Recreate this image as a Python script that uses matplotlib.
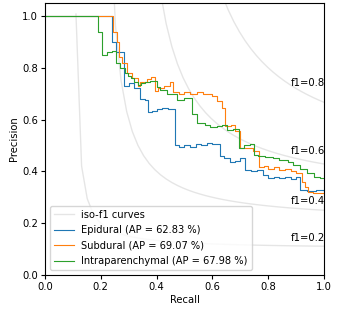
import numpy as np
import matplotlib
matplotlib.use("Agg")
import matplotlib.pyplot as plt

plt.rcParams['font.family'] = ['DejaVu Sans']
plt.rcParams['font.size'] = 7

# Data (recall, precision) step vertices
epi_recall = [0.00, 0.240, 0.255, 0.283, 0.300, 0.320, 0.340, 0.360, 0.370, 0.385, 0.400,
              0.420, 0.440, 0.466, 0.480, 0.500, 0.520, 0.540, 0.560, 0.580, 0.600, 0.627, 0.640,
              0.663, 0.680, 0.700, 0.717, 0.740, 0.760, 0.780, 0.800, 0.820, 0.840, 0.860, 0.880,
              0.900, 0.914, 0.940, 0.970, 1.000]
epi_precision = [1.00, 0.90, 0.86, 0.73, 0.74, 0.72, 0.68, 0.675, 0.63, 0.635, 0.640,
                 0.645, 0.640, 0.500, 0.495, 0.500, 0.495, 0.505, 0.500, 0.510, 0.505, 0.460, 0.450,
                 0.435, 0.440, 0.450, 0.405, 0.400, 0.405, 0.386, 0.375, 0.380, 0.375, 0.380, 0.370,
                 0.378, 0.330, 0.325, 0.330, 0.325]

sub_recall = [0.00, 0.243, 0.258, 0.265, 0.276, 0.294, 0.312, 0.333, 0.340, 0.365, 0.380, 0.394,
              0.405, 0.425, 0.448, 0.459, 0.480, 0.500, 0.520, 0.545, 0.565, 0.599, 0.616, 0.634,
              0.645, 0.665, 0.680, 0.700, 0.720, 0.745, 0.767, 0.785, 0.800, 0.820, 0.840, 0.860,
              0.880, 0.900, 0.921, 0.932, 0.943, 0.960, 0.980, 1.000]
sub_precision = [1.00, 0.94, 0.90, 0.84, 0.82, 0.78, 0.76, 0.73, 0.745, 0.755, 0.765, 0.71,
                 0.72, 0.73, 0.745, 0.705, 0.70, 0.705, 0.70, 0.705, 0.70, 0.69, 0.67, 0.645,
                 0.575, 0.58, 0.555, 0.49, 0.49, 0.48, 0.415, 0.42, 0.41, 0.415, 0.405, 0.41,
                 0.40, 0.395, 0.36, 0.34, 0.32, 0.315, 0.318, 0.315]

intra_recall = [0.00, 0.190, 0.205, 0.222, 0.240, 0.255, 0.270, 0.287, 0.297, 0.308, 0.319, 0.333,
                0.345, 0.360, 0.375, 0.401, 0.412, 0.437, 0.473, 0.500, 0.527,
                0.545, 0.573, 0.591, 0.616, 0.634, 0.652, 0.675, 0.695, 0.715, 0.735, 0.749,
                0.765, 0.790, 0.817, 0.840, 0.870, 0.889, 0.915, 0.939, 0.965, 0.985, 1.000]
intra_precision = [1.00, 0.94, 0.85, 0.86, 0.865, 0.82, 0.80, 0.78, 0.77, 0.76, 0.745, 0.735,
                   0.74, 0.745, 0.75, 0.725, 0.715, 0.70, 0.675, 0.683, 0.62,
                   0.585, 0.58, 0.57, 0.575, 0.58, 0.56, 0.565, 0.49, 0.50, 0.505, 0.465,
                   0.46, 0.455, 0.45, 0.445, 0.435, 0.425, 0.41, 0.395, 0.38, 0.375, 0.375]

labels = ["Epidural (AP = 62.83 %)", "Subdural (AP = 69.07 %)", "Intraparenchymal (AP = 67.98 %)"]
colors = ["#1f77b4", "#ff7f0e", "#2ca02c"]
f_scores = [0.2, 0.4, 0.6, 0.8]

fig = plt.figure(figsize=(3.37, 3.10), dpi=100)
ax = fig.add_axes([0.1335, 0.1129, 0.8279, 0.8774])

iso_line = None
for f in f_scores:
    x = np.linspace(0.01, 1)
    y = f * x / (2 * x - f)
    iso_line, = ax.plot(x[y >= 0], y[y >= 0], color='gray', alpha=0.2, lw=1.0)
    ax.annotate('f1={0:0.1f}'.format(f), xy=(0.88, y[45] + 0.02), fontsize=7.2)

lines = [iso_line]
for r, p, c, l in zip([epi_recall, sub_recall, intra_recall],
                      [epi_precision, sub_precision, intra_precision], colors, labels):
    ln, = ax.step(r, p, where='post', color=c, lw=0.8)
    lines.append(ln)

ax.set_xlim(0.0, 1.0)
ax.set_ylim(0.0, 1.05)
ax.set_xticks([0, 0.2, 0.4, 0.6, 0.8, 1.0])
ax.set_yticks([0, 0.2, 0.4, 0.6, 0.8, 1.0])
ax.set_xlabel('Recall', fontsize=7.2, labelpad=2)
ax.set_ylabel('Precision', fontsize=7.2, labelpad=2)
ax.tick_params(labelsize=7.2, length=3, pad=2)
ax.legend(lines, ['iso-f1 curves'] + labels, loc='lower left', fontsize=7.1,
          borderpad=0.4, handlelength=2.0, labelspacing=0.55)

fig.savefig('out.png', dpi=100)
